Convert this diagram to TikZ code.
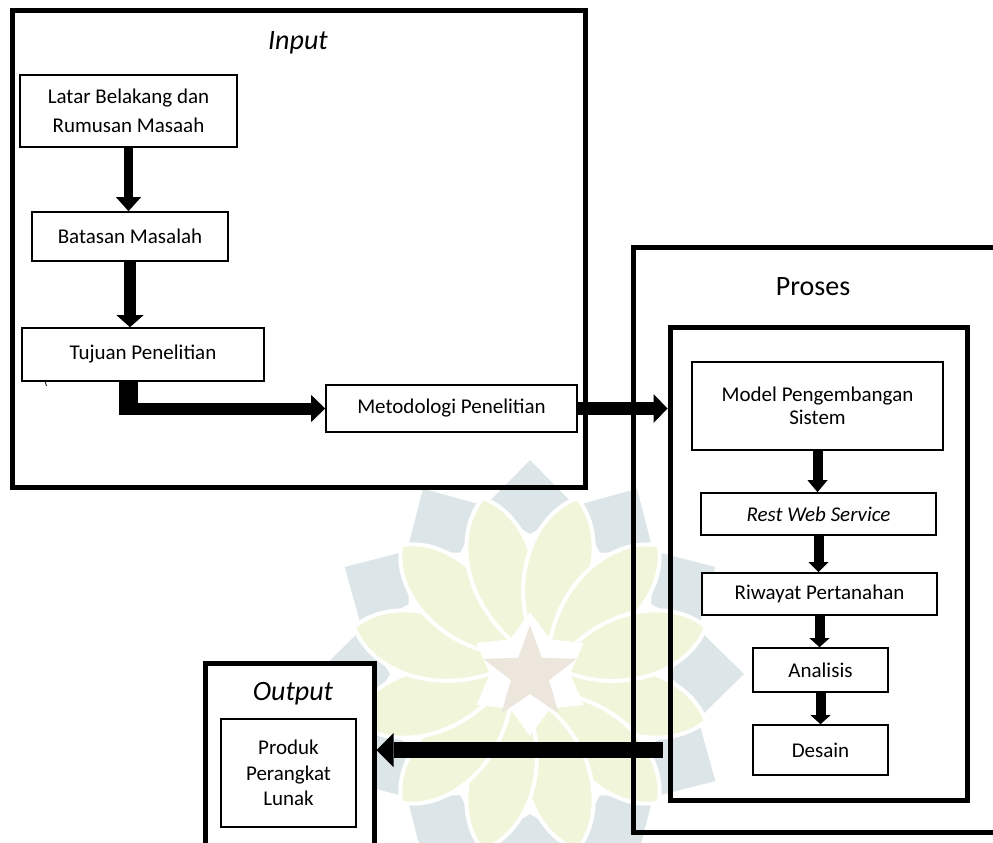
\documentclass[tikz,border=0pt]{standalone}
\usepackage{fontspec}
\setmainfont{Carlito}
\usetikzlibrary{arrows.meta}
\definecolor{wmblue}{HTML}{DCE5E8}
\definecolor{wmyel}{HTML}{F1F5D9}
\definecolor{wmstar}{HTML}{ECE6DC}
\tikzset{
  txtbox/.style={draw=black, line width=1.6pt, fill=white, inner sep=0pt, align=center, font=\fontsize{21}{26}\selectfont},
  bigbox/.style={draw=black, line width=5pt, inner sep=0pt},
  ttl/.style={inner sep=0pt, font=\fontsize{28}{34}\selectfont},
  blockarrow/.style n args={3}{draw=black, line width=#1, -{Triangle[width=#2,length=#3,line width=0pt]}},
}
\begin{document}
\begin{tikzpicture}[x=1pt,y=-1pt]
\useasboundingbox (0,0) rectangle (993,843);
% watermark
\begin{scope}[shift={(530,674)}]
  \foreach \a in {0,30,...,330}
    \fill[wmblue] (\a:214) -- (\a+15:174) -- (\a:140) -- (\a-15:174) -- cycle;
  \foreach \a in {15,45,...,345}
    \filldraw[fill=wmyel, draw=white, line width=4pt] (\a:25) .. controls (\a-30:95) and (\a-14:160) .. (\a:182) .. controls (\a+14:160) and (\a+30:95) .. (\a:25);
  \fill[white] (270:62) -- (300:40) -- (330:62) -- (0:40) -- (30:62) -- (60:40) -- (90:62) -- (120:40) -- (150:62) -- (180:40) -- (210:62) -- (240:40) -- cycle;
  \fill[wmstar] (270:49) -- (306:20) -- (342:49) -- (18:20) -- (54:49) -- (90:20) -- (126:49) -- (162:20) -- (198:49) -- (234:20) -- cycle;
\end{scope}
% Input
\node[bigbox, minimum width=573pt, minimum height=476pt] (inbox) at (298.5,249) {};
\node[ttl, anchor=base] (intitle) at (298,50) {\itshape Input};
\node[txtbox, minimum width=217pt, minimum height=72pt, font=\fontsize{21}{28.5}\selectfont] (lat) at (128.5,111) {Latar Belakang dan\\Rumusan Masaah};
\node[txtbox, minimum width=196pt, minimum height=49pt] (bat) at (130,236.5) {Batasan Masalah};
\node[txtbox, minimum width=242pt, minimum height=53pt] (tuj) at (143,354.5) {Tujuan Penelitian};
\node[txtbox, minimum width=251pt, minimum height=47pt] (met) at (451.5,408.5) {Metodologi Penelitian};
\draw[line width=0.8pt] (45,381) -- (46.5,386);
% Proses
\node[bigbox, minimum width=380pt, minimum height=585pt] (pout) at (823,539.5) {};
\node[ttl, anchor=base] (ptitle) at (813,295) {Proses};
\node[bigbox, minimum width=297pt, minimum height=473pt] (pin) at (818.5,563.5) {};
\node[txtbox, minimum width=251pt, minimum height=88pt, font=\fontsize{21}{23}\selectfont] (mod) at (817.5,406) {Model Pengembangan\\Sistem};
\node[txtbox, minimum width=235pt, minimum height=42pt] (rest) at (818.5,514) {\itshape Rest Web Service};
\node[txtbox, minimum width=235pt, minimum height=42pt] (riw) at (819.5,594) {Riwayat Pertanahan};
\node[txtbox, minimum width=135pt, minimum height=44pt] (ana) at (820.5,670) {Analisis};
\node[txtbox, minimum width=135pt, minimum height=50pt] (des) at (820.5,750) {Desain};
% Output
\node[bigbox, fill=white, minimum width=169pt, minimum height=200pt] (obox) at (289.5,763) {};
\node[ttl, anchor=base] (otitle) at (293,700) {\itshape Output};
\node[txtbox, minimum width=135pt, minimum height=108pt, font=\fontsize{21}{25.5}\selectfont] (prod) at (288.5,773) {Produk\\Perangkat\\Lunak};
% arrows
\draw[blockarrow={9.5pt}{25pt}{14pt}] (lat.south) -- (lat.south |- bat.north);
\draw[blockarrow={12pt}{27pt}{12pt}] (bat.south) -- (bat.south |- tuj.north);
\coordinate (elb) at (128.5,414);
\draw[draw=black, line width=19pt] (tuj.south -| elb) -- (elb);
\coordinate (elbh) at (119,408.5);
\draw[blockarrow={12pt}{27pt}{14pt}] (elbh) -- (met.west);
\draw[blockarrow={13pt}{29pt}{14pt}] (met.east) -- (met.east -| pin.west);
\draw[blockarrow={10pt}{20pt}{12pt}] (mod.south) -- (mod.south |- rest.north);
\draw[blockarrow={10pt}{20pt}{10pt}] (rest.south) -- (rest.south |- riw.north);
\draw[blockarrow={10pt}{20pt}{9pt}] (riw.south) -- (riw.south |- ana.north);
\draw[blockarrow={10pt}{20pt}{9pt}] (ana.south) -- (ana.south |- des.north);
\coordinate (osrc) at (663,750);
\draw[blockarrow={16pt}{34pt}{17pt}] (osrc) -- (osrc -| obox.east);
\end{tikzpicture}
\end{document}
